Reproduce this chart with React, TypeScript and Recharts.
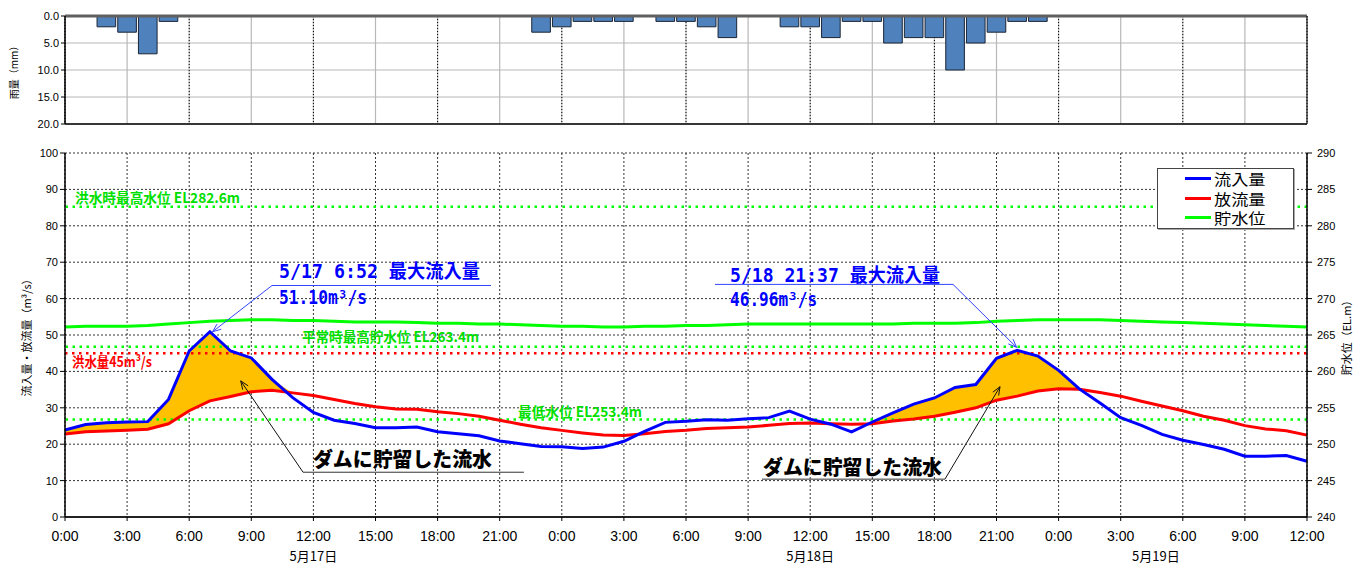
import React from "react";
import {
  Area,
  Bar,
  BarChart,
  CartesianGrid,
  ComposedChart,
  Legend,
  Line,
  ReferenceDot,
  ReferenceLine,
  XAxis,
  YAxis,
} from "recharts";

// hourly axis: 5/17 0:00 .. 5/19 12:00
const hours = [
  0, 1, 2, 3, 4, 5, 6, 7, 8, 9, 10, 11, 12, 13, 14, 15, 16, 17, 18, 19, 20,
  21, 22, 23, 24, 25, 26, 27, 28, 29, 30, 31, 32, 33, 34, 35, 36, 37, 38, 39,
  40, 41, 42, 43, 44, 45, 46, 47, 48, 49, 50, 51, 52, 53, 54, 55, 56, 57, 58,
  59, 60,
];

// 雨量 (mm)
const rainfall = [
  0, 0, 2, 3, 7, 1, 0, 0, 0, 0, 0, 0, 0, 0, 0, 0, 0, 0, 0, 0, 0, 0, 0, 3, 2,
  1, 1, 1, 0, 1, 1, 2, 4, 0, 0, 2, 2, 4, 1, 1, 5, 4, 4, 10, 5, 3, 1, 1, 0, 0,
  0, 0, 0, 0, 0, 0, 0, 0, 0, 0, 0,
];

// 流入量 (m3/s)
const inflow = [
  23.9, 25.4, 25.9, 26.1, 26.2, 32.3, 45.6, 50.9, 45.6, 43.7, 37.8, 32.8,
  28.7, 26.6, 25.7, 24.5, 24.5, 24.7, 23.4, 22.9, 22.3, 20.9, 20.1, 19.4,
  19.3, 18.8, 19.2, 20.8, 23.5, 26.0, 26.3, 26.7, 26.6, 27.0, 27.3, 29.1,
  26.9, 25.5, 23.4, 26.1, 28.6, 31.0, 32.7, 35.6, 36.4, 43.6, 45.8, 44.2,
  40.3, 35.2, 31.3, 27.3, 25.2, 22.7, 21.1, 19.9, 18.6, 16.7, 16.7, 16.9,
  15.3,
];

// 放流量 (m3/s)
const outflow = [
  22.8, 23.4, 23.6, 23.8, 24.1, 25.6, 29.2, 31.9, 33.1, 34.4, 34.8, 34.1,
  33.4, 32.3, 31.2, 30.3, 29.7, 29.6, 28.9, 28.4, 27.7, 26.6, 25.5, 24.5,
  23.8, 23.1, 22.5, 22.4, 22.9, 23.5, 23.8, 24.3, 24.5, 24.7, 25.2, 25.7,
  25.8, 25.6, 25.5, 25.6, 26.4, 26.9, 27.7, 28.8, 30.0, 32.1, 33.2, 34.6,
  35.2, 35.1, 34.2, 33.2, 31.8, 30.5, 29.2, 27.7, 26.6, 25.1, 24.2, 23.7,
  22.5,
];

// 貯水位 (EL.m)
const level = [
  266.1, 266.2, 266.2, 266.2, 266.3, 266.5, 266.7, 266.9, 267.0, 267.1, 267.1,
  267.0, 267.0, 266.9, 266.8, 266.8, 266.8, 266.7, 266.6, 266.6, 266.5, 266.5,
  266.4, 266.3, 266.2, 266.2, 266.1, 266.1, 266.2, 266.2, 266.3, 266.3, 266.4,
  266.5, 266.5, 266.5, 266.5, 266.5, 266.5, 266.5, 266.5, 266.6, 266.6, 266.6,
  266.7, 266.9, 267.0, 267.1, 267.1, 267.1, 267.1, 267.0, 266.9, 266.8, 266.7,
  266.6, 266.5, 266.4, 266.3, 266.2, 266.1,
];

// hours where the dam held back water (orange band)
const storageWindows = [
  [0, 11],
  [39, 49],
];

const timeTicks = [0, 3, 6, 9, 12, 15, 18, 21, 24, 27, 30, 33, 36, 39, 42, 45, 48, 51, 54, 57, 60];
const sixTicks = [0, 6, 12, 18, 24, 30, 36, 42, 48, 54, 60];
const dateTicks = [12, 36, 52.7];
const dateLabels = ["5月17日", "5月18日", "5月19日"];
const rainTicks = [0, 5, 10, 15, 20];
const flowTicks = [0, 10, 20, 30, 40, 50, 60, 70, 80, 90, 100];
const levelTicks = [240, 245, 250, 255, 260, 265, 270, 275, 280, 285, 290];

const legendNames = ["流入量", "放流量", "貯水位"];
const legendColors = ["#0000FF", "#FF0000", "#00FF00"];

const rainData = hours.map((h, i) => ({ h, rain: rainfall[i] || null }));

const flowData = hours.map((h, i) => ({
  h,
  inflow: inflow[i],
  outflow: outflow[i],
  level: level[i],
  stored: storageWindows.some(([a, b]) => h >= a && h <= b)
    ? [outflow[i], Math.max(inflow[i], outflow[i])]
    : null,
}));

const W = 1354;
const LEFT = 65;
const RIGHT = 47;
const BAR_W = (W - LEFT - RIGHT) / 60;

const JP = '"Noto Sans CJK JP", sans-serif';
const MONO = '"DejaVu Sans Mono", "Noto Sans CJK JP", monospace';
const NUM = '"Liberation Sans", Arial, sans-serif';
const NARROW = '"Liberation Sans Narrow", "Liberation Sans", sans-serif';

// text annotations (positions in chart units: hour, m3/s)
const notes = [
  { x: 10.34, y: 65.7, text: "5/17 6:52 最大流入量", color: "#0000FF", size: 19, len: 201, font: MONO, weight: 700 },
  { x: 10.34, y: 58.5, text: "51.10m³/s", color: "#0000FF", size: 19, len: 88, font: MONO, weight: 700 },
  { x: 32.13, y: 64.6, text: "5/18 21:37 最大流入量", color: "#0000FF", size: 19, len: 210, font: MONO, weight: 700 },
  { x: 32.13, y: 58.0, text: "46.96m³/s", color: "#0000FF", size: 19, len: 87, font: MONO, weight: 700 },
  { x: 11.98, y: 13.7, text: "ダムに貯留した流水", color: "#000", size: 20, len: 179, font: JP, weight: 900 },
  { x: 33.72, y: 11.5, text: "ダムに貯留した流水", color: "#000", size: 20, len: 179, font: JP, weight: 900 },
];

const leaders = [
  { from: [10.0, 63.6], to: [20.58, 63.6], color: "#3344FF", arrow: false },
  { from: [10.0, 63.6], to: [7.13, 50.9], color: "#3344FF", arrow: true },
  { from: [31.4, 63.9], to: [42.9, 63.9], color: "#3344FF", arrow: false },
  { from: [42.9, 63.9], to: [45.97, 46.6], color: "#3344FF", arrow: true },
  { from: [11.5, 12.3], to: [22.17, 12.3], color: "#333", arrow: false },
  { from: [11.5, 12.3], to: [8.49, 37.4], color: "#111", arrow: true },
  { from: [33.67, 10.4], to: [42.51, 10.4], color: "#333", arrow: false },
  { from: [42.51, 10.4], to: [45.17, 35.8], color: "#111", arrow: true },
];

const leaderShape = (color: string, arrow: boolean) => (p: any) => {
  const { x1, y1, x2, y2 } = p;
  const ang = Math.atan2(y2 - y1, x2 - x1);
  const L = 9;
  const A = 0.38;
  const a1 = `${x2 - L * Math.cos(ang - A)},${y2 - L * Math.sin(ang - A)}`;
  const a2 = `${x2 - L * Math.cos(ang + A)},${y2 - L * Math.sin(ang + A)}`;
  return (
    <g>
      <line x1={x1} y1={y1} x2={x2} y2={y2} stroke={color} strokeWidth={1} />
      {arrow && (
        <polyline points={`${a1} ${x2},${y2} ${a2}`} fill="none" stroke={color} strokeWidth={1} />
      )}
    </g>
  );
};

const lineLabel = (text: string, color: string, dx: number, dy: number, len: number) => (p: any) => (
  <text
    x={p.viewBox.x + dx}
    y={p.viewBox.y + dy}
    fill={color}
    fontSize={14}
    fontWeight={700}
    fontFamily={JP}
    textLength={len}
    lengthAdjust="spacingAndGlyphs"
  >
    {text}
  </text>
);

const dots = { stroke: "#00FF00", strokeWidth: 2.5, strokeDasharray: "2.5 4.5" };

export default function App() {
  return (
    <div
      style={{
        position: "absolute",
        left: 0,
        top: 0,
        width: W,
        height: 565,
        background: "#fff",
        overflow: "hidden",
      }}
    >
      <div style={{ position: "absolute", left: 0, top: 0 }}>
        <BarChart
          width={W}
          height={130}
          data={rainData}
          margin={{ top: 16, right: RIGHT, bottom: 6, left: 0 }}
        >
          <CartesianGrid stroke="#b8b8b8" strokeWidth={1.2} />
          <CartesianGrid xAxisId="six" horizontal={false} stroke="#000" strokeDasharray="1 2" />
          <XAxis dataKey="h" type="number" domain={[0, 60]} ticks={timeTicks} hide />
          <XAxis xAxisId="six" type="number" domain={[0, 60]} ticks={sixTicks} hide />
          <YAxis
            reversed
            domain={[0, 20]}
            ticks={rainTicks}
            width={LEFT}
            tickFormatter={(v) => Number(v).toFixed(1)}
            tick={{ fontSize: 11, fill: "#000", fontFamily: NUM }}
            tickSize={4}
            axisLine={{ stroke: "#000", strokeWidth: 1.5 }}
            tickLine={{ stroke: "#000" }}
            label={{
              value: "雨量（mm）",
              angle: -90,
              position: "insideLeft",
              offset: 14,
              style: { textAnchor: "middle", fontSize: 10, fontFamily: JP, fill: "#000" },
            }}
          />
          <Bar
            dataKey="rain"
            fill="#4F81BD"
            stroke="#1a2535"
            strokeWidth={1}
            barSize={BAR_W}
            isAnimationActive={false}
          />
          <ReferenceLine y={0} stroke="#606060" strokeWidth={3} />
          <ReferenceLine y={20} stroke="#000" strokeWidth={1.5} />
          <ReferenceLine x={60} stroke="#000" strokeWidth={1} />
        </BarChart>
      </div>

      <div style={{ position: "absolute", left: 0, top: 140 }}>
        <ComposedChart
          width={W}
          height={425}
          data={flowData}
          margin={{ top: 13, right: 0, bottom: 0, left: 0 }}
        >
          <CartesianGrid stroke="#333" strokeDasharray="2 2" strokeWidth={1} />
          <XAxis
            dataKey="h"
            type="number"
            domain={[0, 60]}
            ticks={timeTicks}
            interval={0}
            height={28}
            tickFormatter={(v) => `${Number(v) % 24}:00`}
            tick={{ fontSize: 14, fill: "#000", fontFamily: NARROW }}
            tickSize={4}
            tickMargin={10}
            axisLine={{ stroke: "#222", strokeWidth: 2 }}
            tickLine={{ stroke: "#000" }}
          />
          <XAxis
            xAxisId="date"
            type="number"
            domain={[0, 60]}
            ticks={dateTicks}
            interval={0}
            height={20}
            tickFormatter={(v) => dateLabels[dateTicks.indexOf(Number(v))]}
            tick={{ fontSize: 13, fill: "#000", fontFamily: JP }}
            tickSize={0}
            tickMargin={7}
            axisLine={false}
            tickLine={false}
          />
          <YAxis
            domain={[0, 100]}
            ticks={flowTicks}
            width={LEFT}
            tick={{ fontSize: 11, fill: "#000", fontFamily: NUM }}
            tickSize={5}
            axisLine={{ stroke: "#000", strokeWidth: 1.5 }}
            tickLine={{ stroke: "#000" }}
            label={{
              value: "流入量・放流量（m³/s）",
              angle: -90,
              position: "insideLeft",
              offset: 27,
              style: { textAnchor: "middle", fontSize: 11, fontFamily: JP, fill: "#000" },
            }}
          />
          <YAxis
            yAxisId="right"
            orientation="right"
            domain={[240, 290]}
            ticks={levelTicks}
            width={RIGHT}
            tick={{ fontSize: 11, fill: "#000", fontFamily: NUM }}
            tickSize={5}
            tickMargin={5}
            axisLine={{ stroke: "#000", strokeWidth: 1.5 }}
            tickLine={{ stroke: "#000" }}
            label={{
              value: "貯水位（EL.m）",
              angle: -90,
              position: "insideRight",
              offset: 7,
              style: { textAnchor: "middle", fontSize: 11, fontFamily: JP, fill: "#000" },
            }}
          />

          <Area
            dataKey="stored"
            fill="#FFC000"
            fillOpacity={1}
            stroke="none"
            legendType="none"
            dot={false}
            activeDot={false}
            isAnimationActive={false}
          />

          <ReferenceLine
            yAxisId="right"
            y={282.6}
            {...dots}
            label={lineLabel("洪水時最高水位 EL282.6m", "#00E000", 10, -4, 165)}
          />
          <ReferenceLine
            yAxisId="right"
            y={263.4}
            {...dots}
            label={lineLabel("平常時最高貯水位 EL263.4m", "#00E000", 237, -5, 177)}
          />
          <ReferenceLine
            y={45}
            stroke="#FF0000"
            strokeWidth={2.5}
            strokeDasharray="2.5 4.5"
            label={lineLabel("洪水量45m³/s", "#FF0000", 7, 14, 80)}
          />
          <ReferenceLine
            yAxisId="right"
            y={253.4}
            {...dots}
            label={lineLabel("最低水位 EL253.4m", "#00E000", 453, -2, 124)}
          />

          <Line
            yAxisId="right"
            dataKey="level"
            name="貯水位"
            stroke="#00FF00"
            strokeWidth={3}
            dot={false}
            isAnimationActive={false}
          />
          <Line
            dataKey="outflow"
            name="放流量"
            stroke="#FF0000"
            strokeWidth={3}
            dot={false}
            isAnimationActive={false}
          />
          <Line
            dataKey="inflow"
            name="流入量"
            stroke="#0000FF"
            strokeWidth={3}
            dot={false}
            isAnimationActive={false}
          />

          {leaders.map((s, i) => (
            <ReferenceLine
              key={`ld${i}`}
              segment={[
                { x: s.from[0], y: s.from[1] },
                { x: s.to[0], y: s.to[1] },
              ]}
              shape={leaderShape(s.color, s.arrow)}
            />
          ))}
          {notes.map((n, i) => (
            <ReferenceDot
              key={`nt${i}`}
              x={n.x}
              y={n.y}
              r={0}
              shape={(p: any) => (
                <text
                  x={p.cx}
                  y={p.cy}
                  fill={n.color}
                  fontSize={n.size}
                  fontWeight={n.weight}
                  fontFamily={n.font}
                  textLength={n.len}
                  lengthAdjust="spacingAndGlyphs"
                >
                  {n.text}
                </text>
              )}
            />
          ))}

          <Legend
            layout="vertical"
            align="center"
            verticalAlign="middle"
            wrapperStyle={{ left: 1157, top: 28, width: 137, height: 61 }}
            content={() => (
              <div
                style={{
                  width: 137,
                  height: 61,
                  boxSizing: "border-box",
                  border: "1.5px solid #444",
                  boxShadow: "1px 1px 0 #aaa",
                  background: "#fff",
                  paddingTop: 0,
                }}
              >
                {legendNames.map((name, i) => (
                  <div
                    key={name}
                    style={{ display: "flex", alignItems: "center", height: 19.6, paddingLeft: 27 }}
                  >
                    <span
                      style={{
                        display: "inline-block",
                        width: 26,
                        height: 3,
                        background: legendColors[i],
                        marginRight: 3,
                        flexShrink: 0,
                      }}
                    />
                    <span
                      style={{
                        display: "inline-block",
                        fontFamily: JP,
                        fontSize: 13.4,
                        lineHeight: "19px",
                        color: "#000",
                        transform: "scale(1.28, 1.1)",
                        transformOrigin: "left center",
                        whiteSpace: "nowrap",
                      }}
                    >
                      {name}
                    </span>
                  </div>
                ))}
              </div>
            )}
          />
        </ComposedChart>
      </div>
    </div>
  );
}
